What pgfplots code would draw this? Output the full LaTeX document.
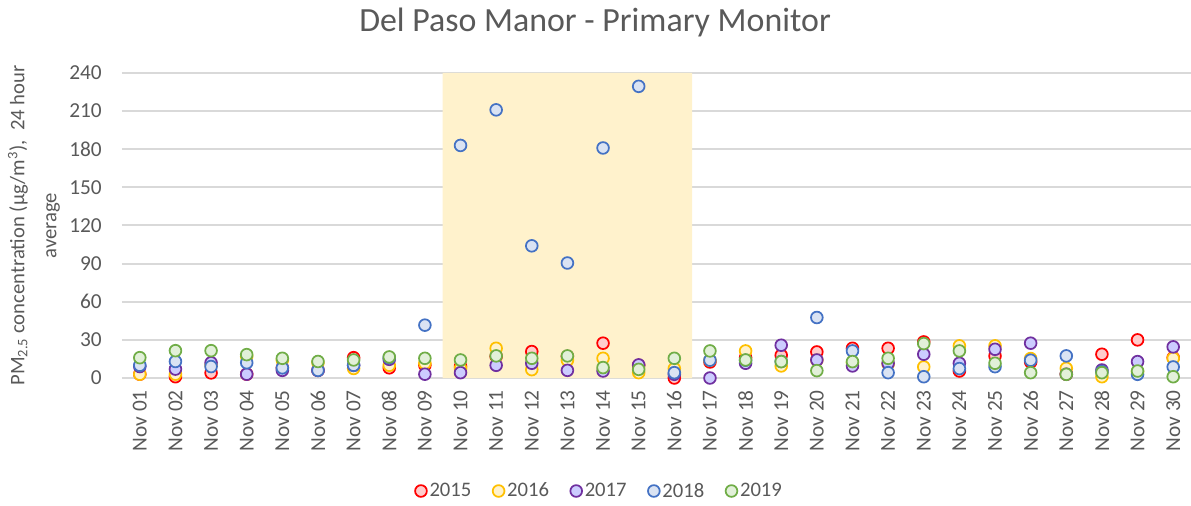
\documentclass[border=0pt]{standalone}
\usepackage{fontspec}
\setmainfont{Carlito}
\usepackage{pgfplots}
\pgfplotsset{compat=1.18}
\usepackage{pgfplotstable}

\definecolor{txt}{HTML}{595959}
\definecolor{gridc}{HTML}{D9D9D9}
\definecolor{shade}{HTML}{FFF2CC}
\definecolor{ea}{HTML}{FF0000}\definecolor{fa}{HTML}{FFCCCC}
\definecolor{eb}{HTML}{FFC000}\definecolor{fb}{HTML}{FFF2CC}
\definecolor{ec}{HTML}{7030A0}\definecolor{fc}{HTML}{CCCCFF}
\definecolor{ed}{HTML}{4472C4}\definecolor{fd}{HTML}{DAE3F3}
\definecolor{ee}{HTML}{70AD47}\definecolor{fe}{HTML}{E2F0D9}

% day, 2015 .. 2019 (24 hour average PM2.5)
\pgfplotstableread{
x  a     b     c     d      e
1  3     3     9     10     16
2  1     3     7     13     21.5
3  4     10    12    9      21.5
4  3     17    3     12     18.4
5  8     14    6     8      15.5
6  6     12    6     6      13
7  16    7.5   10    10     14.2
8  8     10    14.7  16     16.6
9  10    11.6  3     41.6   15.5
10 9     7.4   4.2   183    14.2
11 17    23.4  10    211    17.4
12 20.8  6.6   11.6  104    15.5
13 17    14    6     90.5   17.4
14 27.4  15.5  5.5   181    8.2
15 10    4.2   10.3  229.5  6.8
16 0     7.4   2.9   4.2    15.5
17 12.6  14    0     14     21.3
18 16    21.3  11.6  14     14.2
19 17.9  9.5   25.8  13     12.9
20 20.5  14    14.2  47.6   5.8
21 23.4  12    9.5   21.3   12.9
22 23.4  11    11.6  4.2    15.5
23 28.4  8.7   18.7  1      27.1
24 5.5   25.3  11.6  7.4    21.3
25 17.4  25.3  22.6  8.9    11.6
26 12.6  15.3  27.4  14     4.2
27 3     7.6   3     17.4   2.9
28 18.7  1     6.3   5      4.2
29 30    5     12.9  2.9    5.5
30 16    15.5  24.5  8.7    1
}\pm

\begin{document}
\begin{tikzpicture}
\begin{axis}[
    scale only axis,
    width=801.75pt, height=228.75pt,
    xmin=0.5, xmax=30.5,
    ymin=0, ymax=240,
    ytick={0,30,...,240},
    xtick={1,...,30},
    xticklabels={Nov 01,Nov 02,Nov 03,Nov 04,Nov 05,Nov 06,Nov 07,Nov 08,Nov 09,Nov 10,
      Nov 11,Nov 12,Nov 13,Nov 14,Nov 15,Nov 16,Nov 17,Nov 18,Nov 19,Nov 20,
      Nov 21,Nov 22,Nov 23,Nov 24,Nov 25,Nov 26,Nov 27,Nov 28,Nov 29,Nov 30},
    major tick length=0pt,
    axis line style={draw=none},
    ymajorgrids,
    major grid style={gridc, line width=1.5pt},
    /pgf/number format/assume math mode=true,
    tick label style={font=\fontsize{16}{19}\selectfont, text=txt},
    xticklabel style={rotate=90, anchor=east, inner sep=0pt, xshift=-9pt},
    yticklabel style={anchor=east, inner sep=0pt, xshift=-15pt},
    ylabel={PM\textsubscript{2.5} concentration (µg/m\textsuperscript{3}),~~24 hour\\average},
    ylabel style={at={(axis description cs:-0.0823,0.5)}, anchor=center, align=center,
      font=\fontsize{15.5}{24}\selectfont, text=txt},
    title={Del Paso Manor - Primary Monitor},
    title style={at={(axis description cs:0.4425,1)}, anchor=center, yshift=32pt,
      font=\fontsize{25.4}{30}\selectfont, text=txt},
    legend columns=5,
    legend style={at={(axis description cs:0.447,0)}, anchor=center, yshift=-84.75pt,
      draw=none, fill=none, font=\fontsize{15.5}{18}\selectfont, text=txt,
      /tikz/every even column/.append style={column sep=14pt}},
    pt/.style={only marks, mark=*, mark size=4.4pt, line width=1.3pt},
]
\addplot[fill=shade, draw=none, forget plot]
    coordinates {(9.5,0) (9.5,240) (16.5,240) (16.5,0)} \closedcycle;
\addplot[pt, ea, mark options={fill=fa}] table[x=x, y=a] {\pm};
\addlegendentry{2015}
\addplot[pt, eb, mark options={fill=fb}] table[x=x, y=b] {\pm};
\addlegendentry{2016}
\addplot[pt, ec, mark options={fill=fc}] table[x=x, y=c] {\pm};
\addlegendentry{2017}
\addplot[pt, ed, mark options={fill=fd}] table[x=x, y=d] {\pm};
\addlegendentry{2018}
\addplot[pt, ee, mark options={fill=fe}] table[x=x, y=e] {\pm};
\addlegendentry{2019}
\end{axis}
\pgfresetboundingbox
\path[use as bounding box] (-91.5pt,-96pt) rectangle (801.75pt,283.5pt);
\end{tikzpicture}
\end{document}
